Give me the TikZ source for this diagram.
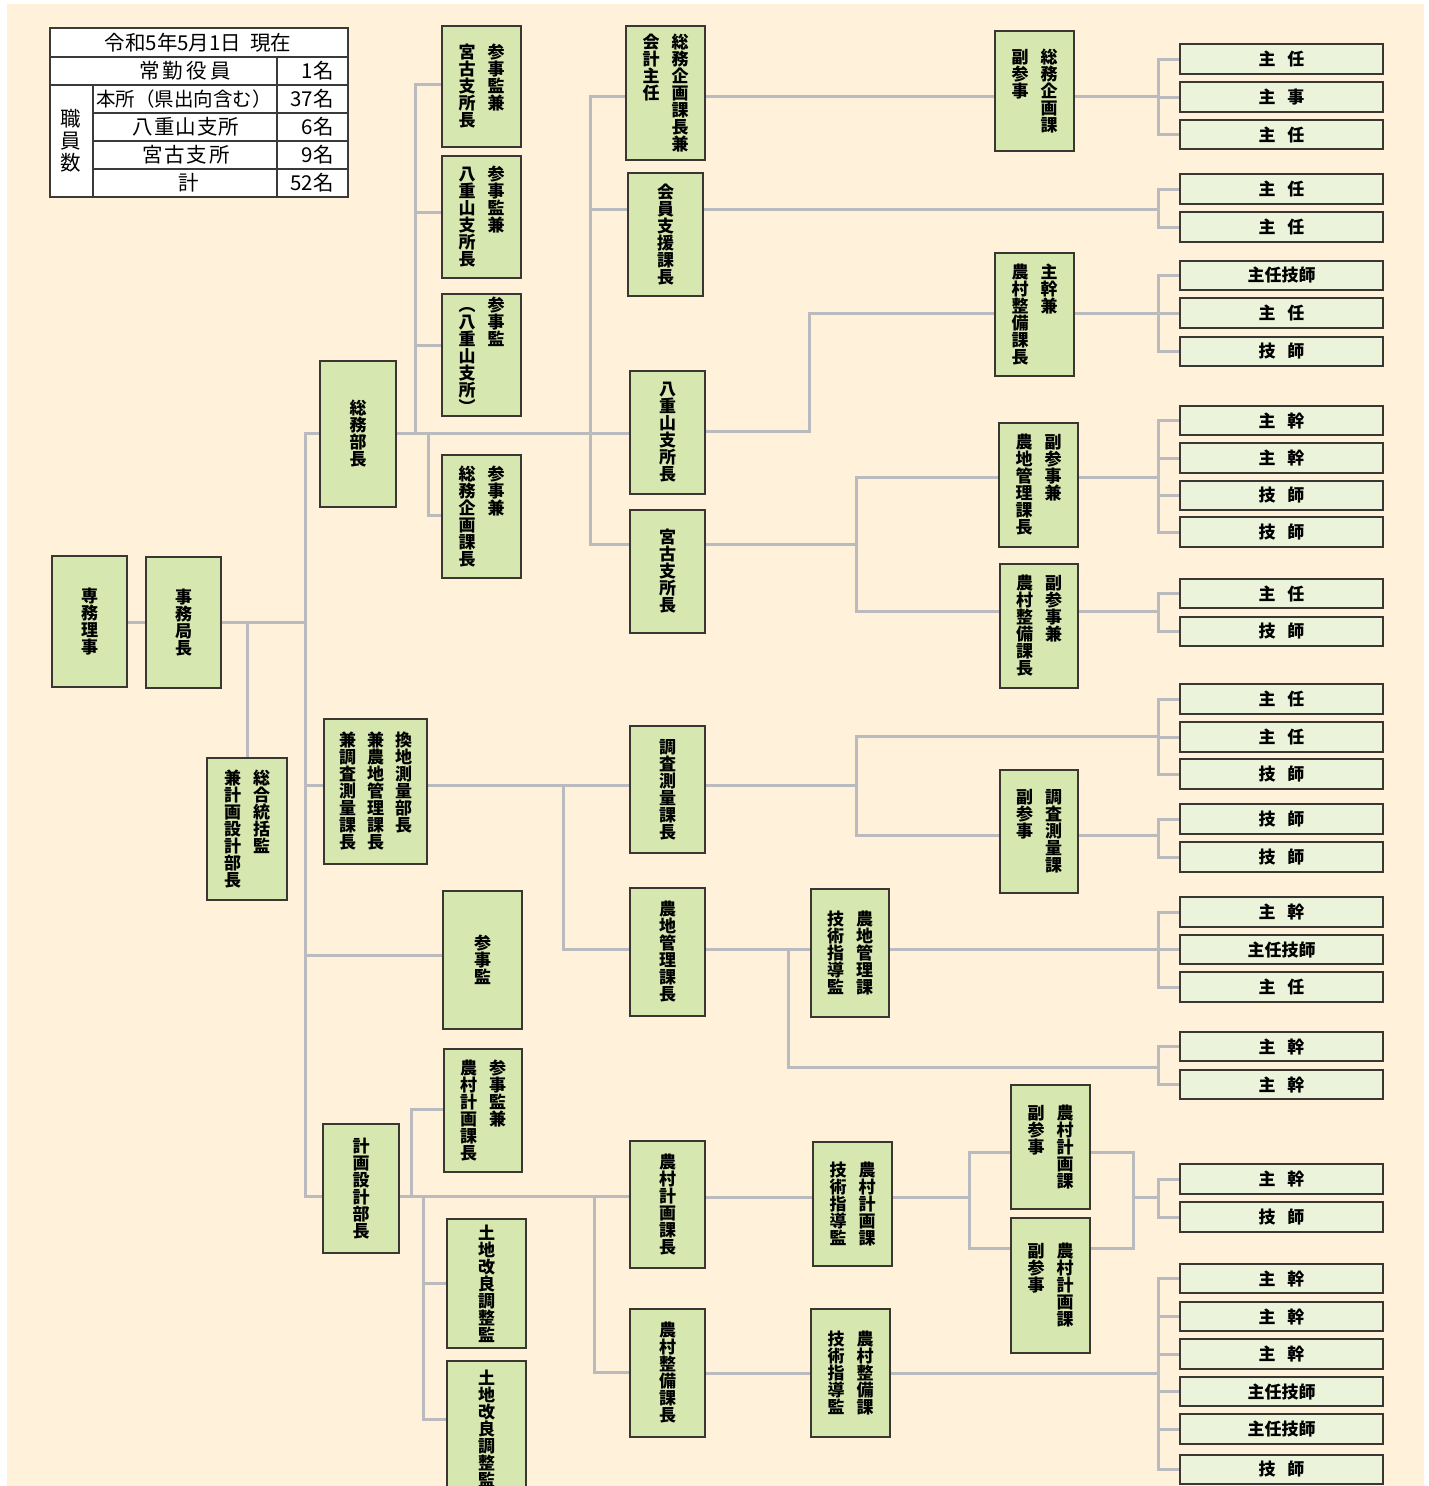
\documentclass[tikz,border=0pt]{standalone}
\usepackage{fontspec}
\newfontfamily\jp{Noto Sans CJK JP}
\definecolor{cream}{HTML}{FFF1DA}
\definecolor{gfill}{HTML}{D6E8AF}
\definecolor{lfill}{HTML}{EBF4DA}
\definecolor{bord}{HTML}{3A3632}
\definecolor{conn}{HTML}{B9BBBF}
\definecolor{tbord}{HTML}{3A3A3A}
\pgfdeclarelayer{back}
\pgfdeclarelayer{bg}
\pgfsetlayers{back,bg,main}
\makeatletter
\newcommand\vc[1]{\parbox[t]{1em}{\centering\@tfor\vc@x:=#1\do{\vc@x\endgraf}}}
\makeatother
\newcommand\cg{\hspace{12pt}}
\newcommand\cgg{\hspace{11pt}}
\newcommand\tc[2]{#1\hspace{12pt}#2}
\newcommand\gb[6]{\node[gbox, minimum width={(#4-#2)*1pt}, minimum height={(#5-#3)*1pt}] (#1) at ({(#2+#4)/2},{(#3+#5)/2}) {#6};}
\newcommand\lb[4]{\node[lbox, minimum height={(#3-#2)*1pt}] (#1) at (1281.5,{(#2+#3)/2}) {#4};}
\newcommand\kids[3]{\draw[cn] (S |- #1) -- (S |- #2); \foreach \k in {#3} {\draw[cn] (S |- \k) -- (\k.west);}}
\begin{document}
\begin{tikzpicture}[x=1pt,y=-1pt,
  gbox/.style={draw=bord,fill=gfill,line width=1.4pt,inner sep=0pt,outer sep=0pt,font=\jp\bfseries\fontsize{17}{17}\selectfont},
  lbox/.style={draw=bord,fill=lfill,line width=1.4pt,inner sep=0pt,outer sep=0pt,minimum width=203pt,font=\jp\bfseries\fontsize{17}{17}\selectfont},
  cn/.style={draw=conn,line width=3pt,line cap=rect},
  tl/.style={draw=tbord,line width=1.3pt},
  tt/.style={inner sep=0pt,font=\jp\fontsize{20.5}{22}\selectfont}]
\useasboundingbox (0,0) rectangle (1429,1486);
\begin{pgfonlayer}{back}
\fill[white] (0,0) rectangle (1429,1486);
\fill[cream] (7,4) rectangle (1424,1486);
\end{pgfonlayer}

% table
\draw[tl, fill=white] (50,28) rectangle (348,197);
\draw[tl] (50,57) -- (348,57) (50,85) -- (348,85) (93,113) -- (348,113) (93,141) -- (348,141) (93,169) -- (348,169) (93,85) -- (93,197) (277,57) -- (277,197);
\node[tt] (t0) at (198,43) {令和5年5月1日\hspace{9pt}現在};
\node[tt] (t1) at (185,71) {常\hspace{3pt}勤\hspace{3pt}役\hspace{3pt}員};
\node[tt,anchor=east] (t1v) at (334,71) {1名};
\node[tt,font=\jp\fontsize{19.5}{22}\selectfont] (t2) at (184,99) {本所（県出向含む）};
\node[tt,anchor=east] (t2v) at (334,99) {37名};
\node[tt] (t3) at (186,127) {八\hspace{1pt}重\hspace{1pt}山\hspace{1pt}支\hspace{1pt}所};
\node[tt,anchor=east] (t3v) at (334,127) {6名};
\node[tt] (t4) at (186,155) {宮\hspace{2pt}古\hspace{2pt}支\hspace{2pt}所};
\node[tt,anchor=east] (t4v) at (334,155) {9名};
\node[tt] (t5) at (189,183) {計};
\node[tt,anchor=east] (t5v) at (334,183) {52名};
\node[tt] (t6) at (71,141) {\vc{職員数}};

% green boxes
\gb{senmu}{52}{556}{127}{687}{\vc{専務理事}}
\gb{jimu}{146}{557}{221}{688}{\vc{事務局長}}
\gb{sougou}{207}{758}{287}{900}{\vc{兼計画設計部長}\cg\vc{総合統括監}}
\gb{soumubu}{320}{361}{396}{507}{\vc{総務部長}}
\gb{kanchi}{324}{719}{427}{864}{\vc{兼調査測量課長}\cgg\vc{兼農地管理課長}\cgg\vc{換地測量部長}}
\gb{sanjikan}{443}{891}{522}{1029}{\vc{参事監}}
\gb{keikaku}{323}{1124}{399}{1253}{\vc{計画設計部長}}
\gb{a1}{442}{26}{521}{147}{\vc{宮古支所長}\cg\vc{参事監兼}}
\gb{a2}{442}{156}{521}{278}{\vc{八重山支所長}\cg\vc{参事監兼}}
\gb{a3}{442}{294}{521}{416}{\vc{︵八重山支所︶}\cg\vc{参事監}}
\gb{a4}{442}{455}{521}{578}{\vc{総務企画課長}\cg\vc{参事兼}}
\gb{b1}{626}{26}{705}{160}{\vc{会計主任}\cg\vc{総務企画課長兼}}
\gb{b2}{628}{173}{703}{296}{\vc{会員支援課長}}
\gb{b3}{630}{371}{705}{494}{\vc{八重山支所長}}
\gb{b4}{630}{510}{705}{633}{\vc{宮古支所長}}
\gb{c1}{995}{31}{1074}{151}{\vc{副参事}\cg\vc{総務企画課}}
\gb{c2}{995}{253}{1074}{376}{\vc{農村整備課長}\cg\vc{主幹兼}}
\gb{c3}{999}{423}{1078}{547}{\vc{農地管理課長}\cg\vc{副参事兼}}
\gb{c4}{1000}{564}{1078}{688}{\vc{農村整備課長}\cg\vc{副参事兼}}
\gb{d1}{630}{726}{705}{853}{\vc{調査測量課長}}
\gb{d2}{630}{888}{705}{1016}{\vc{農地管理課長}}
\gb{e1}{1000}{770}{1078}{893}{\vc{副参事}\cg\vc{調査測量課}}
\gb{e2}{811}{889}{889}{1017}{\vc{技術指導監}\cg\vc{農地管理課}}
\gb{f1}{444}{1049}{522}{1172}{\vc{農村計画課長}\cg\vc{参事監兼}}
\gb{f2}{447}{1219}{526}{1348}{\vc{土地改良調整監}}
\gb{f3}{447}{1361}{526}{1497}{\vc{土地改良調整監}}
\gb{g1}{630}{1141}{705}{1268}{\vc{農村計画課長}}
\gb{g2}{813}{1142}{892}{1266}{\vc{技術指導監}\cg\vc{農村計画課}}
\gb{g3}{1011}{1085}{1090}{1209}{\vc{副参事}\cg\vc{農村計画課}}
\gb{g4}{1011}{1218}{1090}{1353}{\vc{副参事}\cg\vc{農村計画課}}
\gb{h1}{630}{1309}{705}{1437}{\vc{農村整備課長}}
\gb{h2}{811}{1309}{890}{1437}{\vc{技術指導監}\cg\vc{農村整備課}}

% light boxes
\foreach \n/\ya/\yb/\t in {
 k1/44/74/{\tc{主}{任}}, k2/82/112/{\tc{主}{事}}, k3/120/149/{\tc{主}{任}},
 k4/174/204/{\tc{主}{任}}, k5/212/242/{\tc{主}{任}},
 k6/261/290/{主任技師}, k7/298/328/{\tc{主}{任}}, k8/337/366/{\tc{技}{師}},
 k9/406/435/{\tc{主}{幹}}, k10/443/473/{\tc{主}{幹}}, k11/481/510/{\tc{技}{師}}, k12/517/547/{\tc{技}{師}},
 k13/579/608/{\tc{主}{任}}, k14/617/646/{\tc{技}{師}},
 k15/684/714/{\tc{主}{任}}, k16/722/752/{\tc{主}{任}}, k17/759/789/{\tc{技}{師}},
 k18/804/834/{\tc{技}{師}}, k19/842/872/{\tc{技}{師}},
 k20/897/927/{\tc{主}{幹}}, k21/935/964/{主任技師}, k22/972/1002/{\tc{主}{任}},
 k23/1032/1061/{\tc{主}{幹}}, k24/1070/1099/{\tc{主}{幹}},
 k25/1164/1194/{\tc{主}{幹}}, k26/1202/1232/{\tc{技}{師}},
 k27/1264/1293/{\tc{主}{幹}}, k28/1302/1331/{\tc{主}{幹}}, k29/1339/1369/{\tc{主}{幹}},
 k30/1377/1406/{主任技師}, k31/1414/1444/{主任技師}, k32/1455/1484/{\tc{技}{師}}}
 {\lb{\n}{\ya}{\yb}{\t}}

% connectors
\begin{pgfonlayer}{bg}
\coordinate (S) at (1158,0);
\coordinate (T) at (305,0);
\draw[cn] (senmu.east |- 0,622) -- (jimu.west |- 0,622);
\draw[cn] (jimu.east |- 0,622) -- (T |- 0,622);
\draw[cn] (sougou.north |- 0,622) -- (sougou.north);
\draw[cn] (T |- 0,433) -- (T |- 0,1196);
\draw[cn] (T |- 0,433) -- (soumubu.west |- 0,433);
\draw[cn] (T |- 0,785) -- (kanchi.west |- 0,785);
\draw[cn] (T |- 0,955) -- (sanjikan.west |- 0,955);
\draw[cn] (T |- 0,1196) -- (keikaku.west |- 0,1196);
% soumubu
\draw[cn] (soumubu.east |- 0,433) -- (b3.west |- 0,433);
\draw[cn] (a1.west |- 0,84) -- (415,84) -- (415,433);
\draw[cn] (415,212) -- (a2.west |- 0,212);
\draw[cn] (415,345) -- (a3.west |- 0,345);
\draw[cn] (428,433) -- (428,515) -- (a4.west |- 0,515);
\draw[cn] (b1.west |- 0,96) -- (590,96) -- (590,544) -- (b4.west |- 0,544);
\draw[cn] (590,209) -- (b2.west |- 0,209);
\draw[cn] (b1.east |- 0,96) -- (c1.west |- 0,96);
\draw[cn] (c1.east |- 0,96) -- (S |- 0,96);
\kids{k1}{k3}{k1,k2,k3}
\draw[cn] (b2.east |- 0,209) -- (S |- 0,209);
\kids{k4}{k5}{k4,k5}
\draw[cn] (b3.east |- 0,431) -- (809,431) -- (809,313) -- (c2.west |- 0,313);
\draw[cn] (c2.east |- 0,313) -- (S |- 0,313);
\kids{k6}{k8}{k6,k7,k8}
\draw[cn] (b4.east |- 0,544) -- (856,544);
\draw[cn] (c3.west |- 0,477) -- (856,477) -- (856,611) -- (c4.west |- 0,611);
\draw[cn] (c3.east |- 0,477) -- (S |- 0,477);
\kids{k9}{k12}{k9,k10,k11,k12}
\draw[cn] (c4.east |- 0,611) -- (S |- 0,611);
\kids{k13}{k14}{k13,k14}
% kanchi
\draw[cn] (kanchi.east |- 0,785) -- (d1.west |- 0,785);
\draw[cn] (563,785) -- (563,949) -- (d2.west |- 0,949);
\draw[cn] (d1.east |- 0,785) -- (856,785);
\draw[cn] (S |- 0,736) -- (856,736) -- (856,835) -- (e1.west |- 0,835);
\kids{k15}{k17}{k15,k16,k17}
\draw[cn] (e1.east |- 0,835) -- (S |- 0,835);
\kids{k18}{k19}{k18,k19}
\draw[cn] (d2.east |- 0,949) -- (e2.west |- 0,949);
\draw[cn] (788,949) -- (788,1067) -- (S |- 0,1067);
\kids{k23}{k24}{k23,k24}
\draw[cn] (e2.east |- 0,949) -- (S |- 0,949);
\kids{k20}{k22}{k20,k21,k22}
% keikaku
\draw[cn] (keikaku.east |- 0,1196) -- (g1.west |- 0,1196);
\draw[cn] (411,1196) -- (411,1109) -- (f1.west |- 0,1109);
\draw[cn] (423,1196) -- (423,1419) -- (f3.west |- 0,1419);
\draw[cn] (423,1283) -- (f2.west |- 0,1283);
\draw[cn] (594,1196) -- (594,1372) -- (h1.west |- 0,1372);
\draw[cn] (g1.east |- 0,1197) -- (g2.west |- 0,1197);
\draw[cn] (g2.east |- 0,1197) -- (969,1197);
\draw[cn] (g3.west |- 0,1152) -- (969,1152) -- (969,1248) -- (g4.west |- 0,1248);
\draw[cn] (g3.east |- 0,1152) -- (1133,1152) -- (1133,1248) -- (g4.east |- 0,1248);
\draw[cn] (1133,1197) -- (S |- 0,1197);
\kids{k25}{k26}{k25,k26}
\draw[cn] (h1.east |- 0,1373) -- (h2.west |- 0,1373);
\draw[cn] (h2.east |- 0,1373) -- (S |- 0,1373);
\kids{k27}{k32}{k27,k28,k29,k30,k31,k32}
\end{pgfonlayer}
\end{tikzpicture}
\end{document}
